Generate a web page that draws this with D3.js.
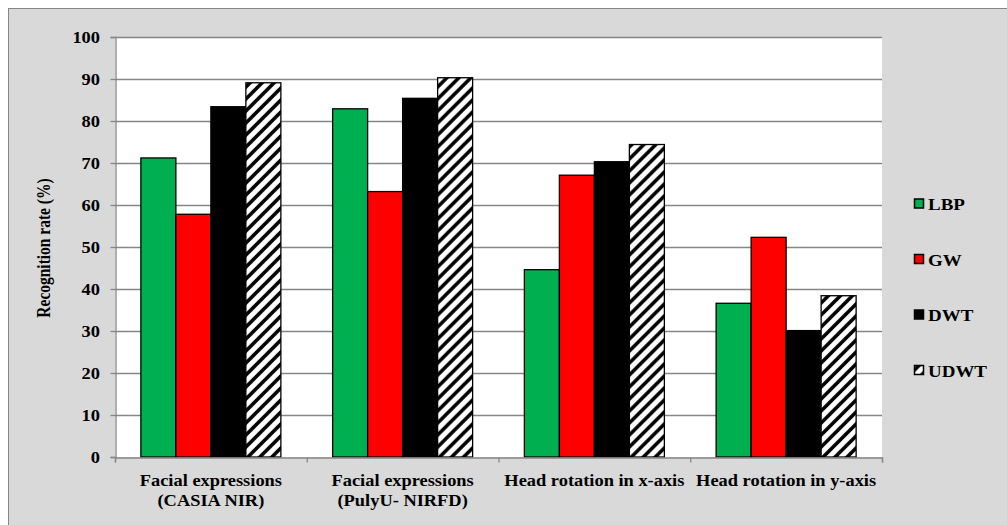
<!DOCTYPE html>
<html><head><meta charset="utf-8">
<script src="https://cdn.jsdelivr.net/npm/d3@7"></script>
<style>body{margin:0;background:#fff}svg{display:block}svg text{font-family:'Liberation Serif','Times New Roman','DejaVu Serif',serif;font-weight:bold;fill:#000}</style>
</head><body><svg id="c" width="1007" height="525"></svg>
<script>
const categories = [["Facial expressions","(CASIA NIR)"],["Facial expressions","(PulyU- NIRFD)"],["Head rotation in x-axis"],["Head rotation in y-axis"]];
const seriesNames = ["LBP","GW","DWT","UDWT"];
const LBP  = [71.2, 82.9, 44.6, 36.6];
const GW   = [57.8, 63.2, 67.1, 52.3];
const DWT  = [83.4, 85.4, 70.3, 30.1];
const UDWT = [89.1, 90.3, 74.4, 38.4];
const yTicks = [0,10,20,30,40,50,60,70,80,90,100];
const values = [LBP, GW, DWT, UDWT];
const colors = ["#00b050","#ff0000","#000000","url(#hatch)"];
const SX = 1.15;

const svg = d3.select("#c");
const defs = svg.append("defs");
const pat = defs.append("pattern").attr("id","hatch").attr("patternUnits","userSpaceOnUse")
  .attr("width",12).attr("height",12);
pat.append("rect").attr("width",12).attr("height",12).attr("fill","#fff");
pat.append("path").attr("d","M-3,15 L15,-3 M-9,9 L9,-9 M3,21 L21,3").attr("stroke","#000").attr("stroke-width",3.6);

svg.append("rect").attr("x",8.5).attr("y",8.5).attr("width",1010).attr("height",530)
  .attr("fill","#d9d9d9").attr("stroke","#868686").attr("stroke-width",1);

const L=115,R=882,T=37,B=457;
svg.append("rect").attr("x",L).attr("y",T).attr("width",R-L).attr("height",B-T).attr("fill","#fff");

const xs = d3.scaleLinear().domain([0,categories.length]).range([L,R]);
const y = d3.scaleLinear().domain([0,100]).range([B,T]);
const step = xs(1)-xs(0);

// grid
svg.append("g").selectAll("line").data(yTicks.filter(d=>d>0)).join("line")
  .attr("x1",L).attr("x2",R).attr("y1",d=>Math.round(y(d))+0.5).attr("y2",d=>Math.round(y(d))+0.5)
  .attr("stroke","#868686").attr("stroke-width",1.3);

// bars
const x1 = d3.scaleBand().domain(d3.range(seriesNames.length)).range([0,140]);
const groups = svg.append("g").selectAll("g").data(categories).join("g")
  .attr("transform",(d,i)=>`translate(${xs(i) + (step-140)/2},0)`);
groups.selectAll("rect").data((d,i)=>values.map((v,s)=>({s, v:v[i]}))).join("rect")
  .attr("x",d=>x1(d.s)).attr("width",x1.bandwidth())
  .attr("y",d=>y(d.v)).attr("height",d=>y(0)-y(d.v))
  .attr("fill",d=>colors[d.s]).attr("stroke","#000").attr("stroke-width",1.3);

// y axis
const yAxis = d3.axisLeft(y).tickValues(yTicks).tickSize(5).tickFormat("");
const ga = svg.append("g").attr("transform",`translate(${L+0.5},0)`).call(yAxis);
ga.select(".domain").attr("stroke","#868686").attr("stroke-width",1.3);
ga.selectAll(".tick line").attr("stroke","#868686").attr("stroke-width",1.3);
svg.append("g").selectAll("text").data(yTicks).join("text")
  .attr("text-anchor","end").attr("font-size",16)
  .attr("transform",d=>`translate(100,${y(d)+5.5}) scale(${SX},1)`).text(d=>d);

// x axis
const gx = svg.append("g").attr("transform",`translate(0,${B+0.5})`)
  .call(d3.axisBottom(xs).tickValues(d3.range(categories.length+1)).tickSize(5).tickFormat(""));
gx.select(".domain").attr("stroke","#868686").attr("stroke-width",1.3);
gx.selectAll(".tick line").attr("stroke","#868686").attr("stroke-width",1.3);

// category labels
const cl = svg.append("g").selectAll("text").data(categories).join("text")
  .attr("text-anchor","middle").attr("font-size",16)
  .attr("transform",(d,i)=>`translate(${xs(i+0.5)},486) scale(${SX},1)`);
cl.selectAll("tspan").data(d=>d).join("tspan").attr("x",0).attr("dy",(d,i)=>i?20.5:0).text(d=>d);

// y title
svg.append("text").attr("transform",`translate(50,248) rotate(-90) scale(1,${SX})`).attr("text-anchor","middle")
  .attr("font-size",15.5).text("Recognition rate (%)");

// legend
const leg = svg.append("g").selectAll("g").data(seriesNames).join("g")
  .attr("transform",(d,i)=>`translate(914,${204 + i*55.5})`);
leg.append("rect").attr("x",0.5).attr("y",-5).attr("width",9).attr("height",9)
  .attr("fill",(d,i)=>colors[i]).attr("stroke","#000").attr("stroke-width",1.5);
leg.append("text").attr("transform",`translate(14,6) scale(${SX},1)`).attr("font-size",16.5).text(d=>d);
</script></body></html>
